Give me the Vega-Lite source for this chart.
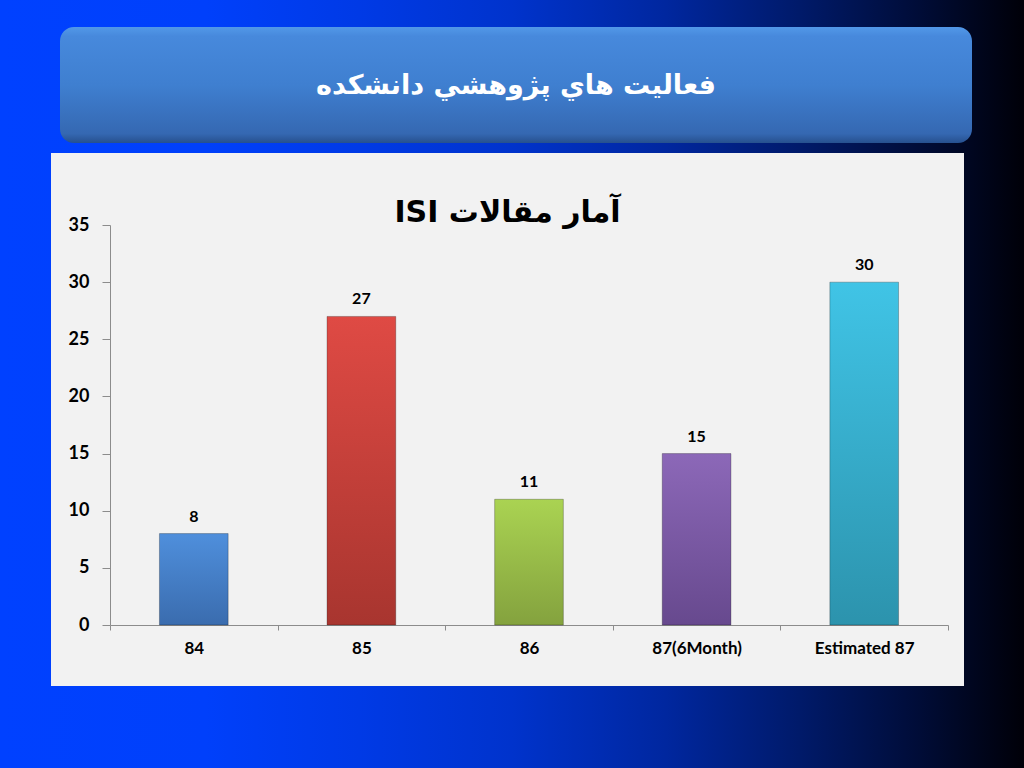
{
  "$schema": "https://vega.github.io/schema/vega-lite/v6.json",
  "padding": 0,
  "spacing": 0,
  "background": "#0030c0",
  "config": {"view": {"stroke": null}, "font": "Lato"},
  "datasets": {
    "isi": [
      {"year": "84", "count": 8},
      {"year": "85", "count": 27},
      {"year": "86", "count": 11},
      {"year": "87(6Month)", "count": 15},
      {"year": "Estimated 87", "count": 30}
    ],
    "bg": [{"part": "background"}]
  },
  "vconcat": [
    {
      "width": 1024, "height": 27,
      "data": {"name": "bg"},
      "mark": {"type": "rect", "strokeWidth": 0, "fill": {"gradient": "linear", "x1": 0, "y1": 0, "x2": 1, "y2": 0, "stops": [{"offset": 0, "color": "#0041ff"}, {"offset": 0.2, "color": "#0040fb"}, {"offset": 0.35, "color": "#003ae6"}, {"offset": 0.5, "color": "#0033cc"}, {"offset": 0.65, "color": "#00279f"}, {"offset": 0.78, "color": "#001a6a"}, {"offset": 0.9, "color": "#000c36"}, {"offset": 1, "color": "#000008"}]}},
      "encoding": {"y": {"field": "part", "type": "nominal", "axis": null, "scale": {"paddingInner": 0, "paddingOuter": 0}}}
    },
    {
      "hconcat": [
        {
          "width": 60, "height": 116,
          "data": {"name": "bg"},
          "mark": {"type": "rect", "strokeWidth": 0, "fill": {"gradient": "linear", "x1": 0, "y1": 0, "x2": 17.0667, "y2": 0, "stops": [{"offset": 0, "color": "#0041ff"}, {"offset": 0.2, "color": "#0040fb"}, {"offset": 0.35, "color": "#003ae6"}, {"offset": 0.5, "color": "#0033cc"}, {"offset": 0.65, "color": "#00279f"}, {"offset": 0.78, "color": "#001a6a"}, {"offset": 0.9, "color": "#000c36"}, {"offset": 1, "color": "#000008"}]}},
          "encoding": {"y": {"field": "part", "type": "nominal", "axis": null, "scale": {"paddingInner": 0, "paddingOuter": 0}}}
        },
        {
          "width": 912, "height": 116,
          "data": {"name": "bg"},
          "view": {"fill": {"gradient": "linear", "x1": -0.06579, "y1": 0, "x2": 1.05702, "y2": 0, "stops": [{"offset": 0, "color": "#0041ff"}, {"offset": 0.2, "color": "#0040fb"}, {"offset": 0.35, "color": "#003ae6"}, {"offset": 0.5, "color": "#0033cc"}, {"offset": 0.65, "color": "#00279f"}, {"offset": 0.78, "color": "#001a6a"}, {"offset": 0.9, "color": "#000c36"}, {"offset": 1, "color": "#000008"}]}},
          "layer": [
            {
              "mark": {"type": "rect", "cornerRadius": 14, "strokeWidth": 0, "fill": {"gradient": "linear", "x1": 0, "y1": 0, "x2": 0, "y2": 1, "stops": [{"offset": 0, "color": "#5298e8"}, {"offset": 0.08, "color": "#4789dc"}, {"offset": 0.5, "color": "#3f7fd0"}, {"offset": 0.92, "color": "#3568b2"}, {"offset": 1, "color": "#26508e"}]}},
              "encoding": {"y": {"field": "part", "type": "nominal", "axis": null, "scale": {"paddingInner": 0, "paddingOuter": 0}}}
            },
            {
              "mark": {"type": "text", "text": "فعاليت هاي پژوهشي دانشكده", "font": "DejaVu Sans", "fontWeight": "bold", "fontSize": 27, "color": "white", "dy": 1},
              "encoding": {}
            }
          ]
        },
        {
          "width": 52, "height": 116,
          "data": {"name": "bg"},
          "mark": {"type": "rect", "strokeWidth": 0, "fill": {"gradient": "linear", "x1": -18.6923, "y1": 0, "x2": 1, "y2": 0, "stops": [{"offset": 0, "color": "#0041ff"}, {"offset": 0.2, "color": "#0040fb"}, {"offset": 0.35, "color": "#003ae6"}, {"offset": 0.5, "color": "#0033cc"}, {"offset": 0.65, "color": "#00279f"}, {"offset": 0.78, "color": "#001a6a"}, {"offset": 0.9, "color": "#000c36"}, {"offset": 1, "color": "#000008"}]}},
          "encoding": {"y": {"field": "part", "type": "nominal", "axis": null, "scale": {"paddingInner": 0, "paddingOuter": 0}}}
        }
      ],
      "spacing": 0
    },
    {
      "width": 1024, "height": 10,
      "data": {"name": "bg"},
      "mark": {"type": "rect", "strokeWidth": 0, "fill": {"gradient": "linear", "x1": 0, "y1": 0, "x2": 1, "y2": 0, "stops": [{"offset": 0, "color": "#0041ff"}, {"offset": 0.2, "color": "#0040fb"}, {"offset": 0.35, "color": "#003ae6"}, {"offset": 0.5, "color": "#0033cc"}, {"offset": 0.65, "color": "#00279f"}, {"offset": 0.78, "color": "#001a6a"}, {"offset": 0.9, "color": "#000c36"}, {"offset": 1, "color": "#000008"}]}},
      "encoding": {"y": {"field": "part", "type": "nominal", "axis": null, "scale": {"paddingInner": 0, "paddingOuter": 0}}}
    },
    {
      "hconcat": [
        {
          "width": 51, "height": 533,
          "data": {"name": "bg"},
          "mark": {"type": "rect", "strokeWidth": 0, "fill": {"gradient": "linear", "x1": 0, "y1": 0, "x2": 20.0784, "y2": 0, "stops": [{"offset": 0, "color": "#0041ff"}, {"offset": 0.2, "color": "#0040fb"}, {"offset": 0.35, "color": "#003ae6"}, {"offset": 0.5, "color": "#0033cc"}, {"offset": 0.65, "color": "#00279f"}, {"offset": 0.78, "color": "#001a6a"}, {"offset": 0.9, "color": "#000c36"}, {"offset": 1, "color": "#000008"}]}},
          "encoding": {"y": {"field": "part", "type": "nominal", "axis": null, "scale": {"paddingInner": 0, "paddingOuter": 0}}}
        },
        {
          "width": 913, "height": 533,
          "data": {"name": "isi"},
          "view": {"fill": "#f2f2f2"},
          "title": {"text": "‫آمار مقالات ISI‬", "font": "DejaVu Sans", "fontWeight": "bold", "fontSize": 30, "color": "#000000", "anchor": "middle", "baseline": "alphabetic", "offset": -99},
          "encoding": {
            "x": {
              "field": "year", "type": "nominal", "sort": null,
              "scale": {"range": [59, 897], "paddingInner": 0, "paddingOuter": 0},
              "axis": {"title": null, "offset": -61, "tickBand": "extent", "labelAngle": 0, "labelFontSize": 17, "labelFontWeight": "bold", "labelColor": "#000000", "labelFont": "Lato", "labelPadding": 10, "domainColor": "#8c8c8c", "tickColor": "#8c8c8c", "tickSize": 5, "grid": false}
            },
            "y": {
              "field": "count", "type": "quantitative",
              "scale": {"domain": [0, 35], "range": [472, 72], "nice": false},
              "axis": {"title": null, "offset": -59, "values": [0, 5, 10, 15, 20, 25, 30, 35], "labelFontSize": 18, "labelFontWeight": "bold", "labelColor": "#000000", "labelFont": "Lato", "labelPadding": 13, "domainColor": "#8c8c8c", "tickColor": "#8c8c8c", "tickSize": 8, "grid": false}
            }
          },
          "layer": [
            {
              "mark": {"type": "bar", "width": {"band": 0.41}, "stroke": "#000000", "strokeOpacity": 0.25, "strokeWidth": 1},
              "encoding": {
                "fill": {
                  "condition": [
                    {"test": "datum.year === '84'", "value": {"gradient": "linear", "x1": 0, "y1": 0, "x2": 0, "y2": 1, "stops": [{"offset": 0, "color": "#4f8fdc"}, {"offset": 1, "color": "#3a6cae"}]}},
                    {"test": "datum.year === '85'", "value": {"gradient": "linear", "x1": 0, "y1": 0, "x2": 0, "y2": 1, "stops": [{"offset": 0, "color": "#df4a44"}, {"offset": 1, "color": "#a8352f"}]}},
                    {"test": "datum.year === '86'", "value": {"gradient": "linear", "x1": 0, "y1": 0, "x2": 0, "y2": 1, "stops": [{"offset": 0, "color": "#aad352"}, {"offset": 1, "color": "#84a23e"}]}},
                    {"test": "datum.year === '87(6Month)'", "value": {"gradient": "linear", "x1": 0, "y1": 0, "x2": 0, "y2": 1, "stops": [{"offset": 0, "color": "#8c68b8"}, {"offset": 1, "color": "#67498e"}]}}
                  ],
                  "value": {"gradient": "linear", "x1": 0, "y1": 0, "x2": 0, "y2": 1, "stops": [{"offset": 0, "color": "#40c4e6"}, {"offset": 1, "color": "#2c93ad"}]}
                }
              }
            },
            {
              "mark": {"type": "text", "baseline": "bottom", "dy": -9, "fontSize": 16, "fontWeight": "bold", "font": "Lato", "color": "#000000"},
              "encoding": {"text": {"field": "count", "type": "quantitative"}}
            }
          ]
        },
        {
          "width": 60, "height": 533,
          "data": {"name": "bg"},
          "mark": {"type": "rect", "strokeWidth": 0, "fill": {"gradient": "linear", "x1": -16.0667, "y1": 0, "x2": 1, "y2": 0, "stops": [{"offset": 0, "color": "#0041ff"}, {"offset": 0.2, "color": "#0040fb"}, {"offset": 0.35, "color": "#003ae6"}, {"offset": 0.5, "color": "#0033cc"}, {"offset": 0.65, "color": "#00279f"}, {"offset": 0.78, "color": "#001a6a"}, {"offset": 0.9, "color": "#000c36"}, {"offset": 1, "color": "#000008"}]}},
          "encoding": {"y": {"field": "part", "type": "nominal", "axis": null, "scale": {"paddingInner": 0, "paddingOuter": 0}}}
        }
      ],
      "spacing": 0
    },
    {
      "width": 1024, "height": 82,
      "data": {"name": "bg"},
      "mark": {"type": "rect", "strokeWidth": 0, "fill": {"gradient": "linear", "x1": 0, "y1": 0, "x2": 1, "y2": 0, "stops": [{"offset": 0, "color": "#0041ff"}, {"offset": 0.2, "color": "#0040fb"}, {"offset": 0.35, "color": "#003ae6"}, {"offset": 0.5, "color": "#0033cc"}, {"offset": 0.65, "color": "#00279f"}, {"offset": 0.78, "color": "#001a6a"}, {"offset": 0.9, "color": "#000c36"}, {"offset": 1, "color": "#000008"}]}},
      "encoding": {"y": {"field": "part", "type": "nominal", "axis": null, "scale": {"paddingInner": 0, "paddingOuter": 0}}}
    }
  ]
}
